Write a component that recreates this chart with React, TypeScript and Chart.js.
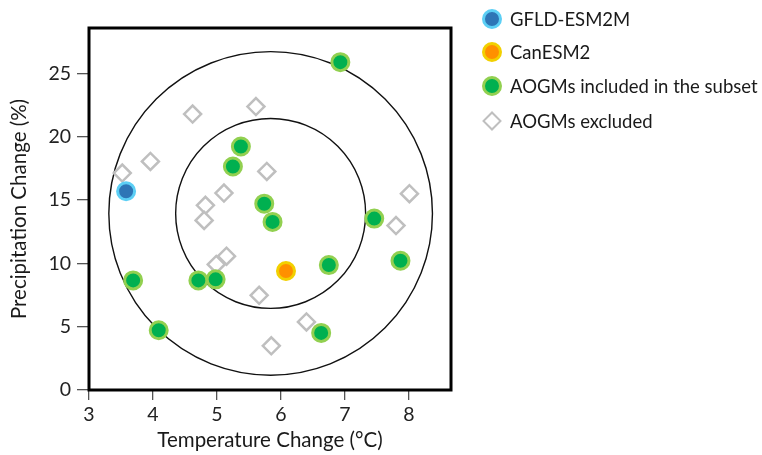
import React, { useEffect, useRef } from "react";
import { Chart, registerables } from "chart.js";
Chart.register(...registerables);

// ---- data ----
const SERIES_LABELS = ["GFLD-ESM2M", "CanESM2", "AOGMs included in the subset", "AOGMs excluded"];

const GFDL_TEMP = [3.58];
const GFDL_PRECIP = [15.7];

const CAN_TEMP = [6.08];
const CAN_PRECIP = [9.4];

const INCLUDED_TEMP = [6.93, 5.375, 5.25, 5.74, 5.87, 7.46, 3.69, 4.71, 4.98, 6.75, 7.87, 4.09, 6.63];
const INCLUDED_PRECIP = [25.9, 19.24, 17.66, 14.72, 13.28, 13.54, 8.66, 8.66, 8.74, 9.87, 10.21, 4.72, 4.51];

const EXCLUDED_TEMP = [4.62, 5.61, 3.96, 3.52, 5.78, 5.11, 8.01, 4.82, 4.8, 7.8, 5.15, 4.99, 5.66, 6.4, 5.85];
const EXCLUDED_PRECIP = [21.8, 22.39, 18.06, 17.14, 17.27, 15.56, 15.51, 14.59, 13.4, 12.99, 10.57, 9.92, 7.48, 5.38, 3.49];

const X_TICK_STEP = 1;
const Y_TICK_STEP = 5;
const X_MIN = 3;
const X_MAX = 8.66;
const Y_MIN = 0;
const Y_MAX = 28.6;

// reference circles (centre in data units, radius in °C)
const CIRCLE_CENTER_TEMP = 5.84;
const CIRCLE_CENTER_PRECIP = 13.95;
const CIRCLE_RADII = [2.53, 1.485];

const X_TITLE = "Temperature Change (°C)";
const Y_TITLE = "Precipitation Change (%)";

// ---- styles ----
const STYLES = [
  { fill: "#2E75B6", border: "#5CCFF5", shape: "circle" },
  { fill: "#FF9000", border: "#F2D000", shape: "circle" },
  { fill: "#00B050", border: "#92D050", shape: "circle" },
  { fill: "#FFFFFF", border: "#BFBFBF", shape: "diamond" },
];

const FONT = "Lato, 'Open Sans', sans-serif";

const toPoints = (xs: number[], ys: number[]) => xs.map((x, i) => ({ x, y: ys[i] }));

const framePlugin = {
  id: "frameAndCircles",
  beforeDatasetsDraw(chart: any) {
    const { ctx, scales } = chart;
    const xs = scales.x;
    const ys = scales.y;
    const cx = xs.getPixelForValue(CIRCLE_CENTER_TEMP);
    const cy = ys.getPixelForValue(CIRCLE_CENTER_PRECIP);
    ctx.save();
    ctx.strokeStyle = "#111";
    ctx.lineWidth = 1.4;
    CIRCLE_RADII.forEach((r) => {
      const rp = xs.getPixelForValue(CIRCLE_CENTER_TEMP + r) - cx;
      ctx.beginPath();
      ctx.arc(cx, cy, rp, 0, Math.PI * 2);
      ctx.stroke();
    });
    ctx.restore();
  },
  afterDatasetsDraw(chart: any) {
    const { ctx, chartArea } = chart;
    ctx.save();
    ctx.strokeStyle = "#000";
    ctx.lineWidth = 3;
    ctx.strokeRect(chartArea.left, chartArea.top, chartArea.right - chartArea.left, chartArea.bottom - chartArea.top);
    ctx.restore();
  },
};

export default function App() {
  const canvasRef = useRef<HTMLCanvasElement | null>(null);

  useEffect(() => {
    document.body.style.margin = "0";
    const canvas = canvasRef.current;
    if (!canvas) return;
    const seriesData = [
      toPoints(GFDL_TEMP, GFDL_PRECIP),
      toPoints(CAN_TEMP, CAN_PRECIP),
      toPoints(INCLUDED_TEMP, INCLUDED_PRECIP),
      toPoints(EXCLUDED_TEMP, EXCLUDED_PRECIP),
    ];
    const chart = new Chart(canvas, {
      type: "scatter",
      data: {
        datasets: seriesData.map((d, i) => ({
          label: SERIES_LABELS[i],
          data: d,
          pointStyle: STYLES[i].shape === "diamond" ? "rectRot" : "circle",
          pointRadius: 8.5,
          pointHoverRadius: 8.5,
          pointBackgroundColor: STYLES[i].fill,
          pointBorderColor: STYLES[i].border,
          pointBorderWidth: STYLES[i].shape === "diamond" ? 2.5 : 3,
          backgroundColor: STYLES[i].fill,
          borderColor: STYLES[i].border,
        })),
      },
      options: {
        animation: false,
        responsive: false,
        events: [],
        layout: { padding: { top: 28, right: 311, bottom: 0, left: 0 } },
        plugins: { legend: { display: false }, tooltip: { enabled: false } },
        scales: {
          x: {
            type: "linear",
            min: X_MIN,
            max: X_MAX,
            afterFit: (s: any) => {
              s.height = 65;
            },
            border: { display: false },
            grid: { drawOnChartArea: false, drawTicks: true, tickLength: 10, color: "#555", lineWidth: 1.3 },
            ticks: {
              stepSize: X_TICK_STEP,
              includeBounds: false,
              padding: 3,
              color: "#222",
              font: { family: FONT, size: 19.5 },
            },
            title: {
              display: true,
              text: X_TITLE,
              color: "#1a1a1a",
              font: { family: FONT, size: 20.5 },
              padding: { top: 0, bottom: 2 },
            },
          },
          y: {
            type: "linear",
            min: Y_MIN,
            max: Y_MAX,
            afterFit: (s: any) => {
              s.width = 89;
            },
            border: { display: false },
            grid: { drawOnChartArea: false, drawTicks: true, tickLength: 12, color: "#555", lineWidth: 1.3 },
            ticks: {
              stepSize: Y_TICK_STEP,
              includeBounds: false,
              padding: 6,
              color: "#222",
              font: { family: FONT, size: 19.5 },
            },
            title: {
              display: true,
              text: Y_TITLE,
              color: "#1a1a1a",
              font: { family: FONT, size: 20.5 },
              padding: { top: 7, bottom: 0 },
            },
          },
        },
      },
      plugins: [framePlugin],
    } as any);
    return () => chart.destroy();
  }, []);

  const legendRows = [19, 52, 86, 121];

  return (
    <div style={{ position: "relative", width: 762, height: 455, fontFamily: FONT }}>
      <canvas ref={canvasRef} width={762} height={455} style={{ display: "block", width: 762, height: 455 }} />
      {SERIES_LABELS.map((label, i) => {
        const st = STYLES[i];
        const y = legendRows[i];
        const marker =
          st.shape === "diamond" ? (
            <div
              style={{
                position: "absolute",
                left: 492 - 7.5,
                top: y - 7.5,
                width: 10,
                height: 10,
                border: `2.5px solid ${st.border}`,
                background: st.fill,
                transform: "rotate(45deg)",
              }}
            />
          ) : (
            <div
              style={{
                position: "absolute",
                left: 492 - 10,
                top: y - 10,
                width: 14,
                height: 14,
                borderRadius: "50%",
                border: `3px solid ${st.border}`,
                background: st.fill,
              }}
            />
          );
        return (
          <React.Fragment key={label}>
            {marker}
            <div
              style={{
                position: "absolute",
                left: 510,
                top: y - 13,
                height: 26,
                lineHeight: "26px",
                fontSize: 18.5,
                color: "#1a1a1a",
                whiteSpace: "nowrap",
              }}
            >
              {label}
            </div>
          </React.Fragment>
        );
      })}
    </div>
  );
}
